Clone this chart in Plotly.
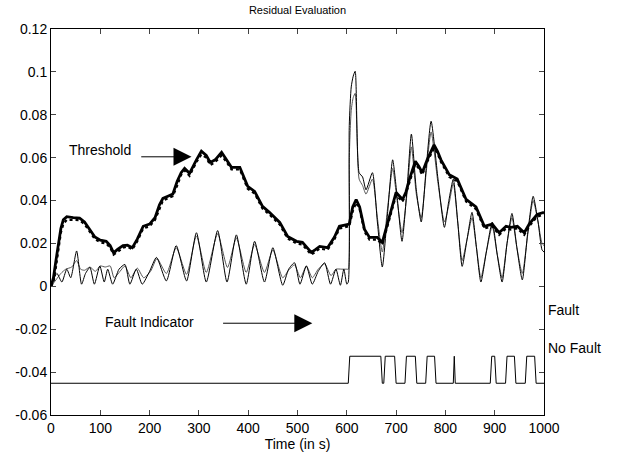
import plotly.graph_objects as go

# ---------------- data ----------------
thr_t = [0, 5, 10, 15, 20, 25, 32, 45, 58, 68, 79, 89, 100, 112, 120, 127, 135, 146, 155, 165,
         175, 187, 200, 211, 220, 227, 237, 247, 256, 264, 271, 281, 295, 305, 315, 323, 333, 346,
         356, 366, 383, 399, 413, 429, 443, 455, 464, 480, 498, 510, 520, 528, 537, 545, 561, 575,
         585, 599, 605, 612, 619, 626, 636, 646, 655, 662, 672, 680, 686, 700, 713, 720, 727, 739,
         746, 753, 763, 777, 784, 791, 808, 824, 842, 862, 879, 895, 909, 923, 933, 946, 960, 970,
         986, 1000]
thr_v = [0.0, 0.004, 0.012, 0.020, 0.027, 0.031, 0.0325, 0.032, 0.0318, 0.030, 0.0266, 0.023,
         0.0215, 0.021, 0.019, 0.0156, 0.0172, 0.019, 0.0192, 0.018, 0.022, 0.028, 0.029, 0.032,
         0.038, 0.041, 0.042, 0.043, 0.049, 0.053, 0.055, 0.0527, 0.059, 0.063, 0.061, 0.0578,
         0.059, 0.0625, 0.059, 0.0555, 0.0555, 0.0466, 0.0443, 0.0373, 0.0345, 0.032, 0.0298,
         0.0233, 0.021, 0.0205, 0.018, 0.0158, 0.0172, 0.0186, 0.018, 0.023, 0.028, 0.0285, 0.029,
         0.037, 0.0405, 0.037, 0.0265, 0.0228, 0.0228, 0.0228, 0.0205, 0.027, 0.0326, 0.0438,
         0.0405, 0.044, 0.0499, 0.0583, 0.056, 0.053, 0.059, 0.066, 0.063, 0.059, 0.052, 0.050,
         0.0405, 0.037, 0.028, 0.029, 0.025, 0.028, 0.0275, 0.028, 0.025, 0.029, 0.0335, 0.0345]
dot_v = [0.0, 0.002, 0.009, 0.017, 0.025, 0.029, 0.031, 0.031, 0.0308, 0.029, 0.0256, 0.022,
         0.0205, 0.020, 0.018, 0.0148, 0.016, 0.018, 0.0185, 0.0172, 0.021, 0.027, 0.028, 0.031,
         0.036, 0.040, 0.041, 0.042, 0.047, 0.052, 0.054, 0.0515, 0.058, 0.0615, 0.060, 0.0565,
         0.058, 0.061, 0.058, 0.0545, 0.0545, 0.0455, 0.0433, 0.0363, 0.0335, 0.031, 0.0288,
         0.0223, 0.020, 0.0195, 0.017, 0.0148, 0.0162, 0.0176, 0.017, 0.022, 0.027, 0.0278, 0.028,
         0.035, 0.039, 0.036, 0.0255, 0.0218, 0.0218, 0.0218, 0.0195, 0.026, 0.031, 0.0425,
         0.0395, 0.043, 0.0485, 0.057, 0.055, 0.052, 0.058, 0.0645, 0.062, 0.058, 0.051, 0.049,
         0.0395, 0.036, 0.027, 0.028, 0.024, 0.027, 0.0265, 0.027, 0.024, 0.028, 0.0325, 0.0335]

resA_t = [0, 12, 22, 32, 40, 52, 62, 70, 79, 88, 99, 108, 115, 125, 138, 150, 160, 173, 185, 200,
          214, 234, 254, 275, 295, 315, 338, 357, 376, 396, 413, 433, 450, 470, 482, 494, 505, 518,
          530, 542, 555, 567, 578, 587, 594, 600, 603, 605, 609, 613, 617, 625, 632, 639, 652, 662,
          672, 683, 693, 702, 712, 722, 731, 741, 751, 761, 771, 785, 798, 807, 816, 825, 834, 844,
          854, 863, 872, 883, 895, 905, 915, 925, 935, 945, 956, 967, 978, 988, 996, 1000]
resA_v = [0.0, 0.006, 0.002, 0.008, 0.004, 0.0165, 0.001, 0.006, 0.0088, 0.001, 0.0095, 0.002,
          0.008, 0.001, 0.008, 0.0102, 0.001, 0.008, 0.001, 0.007, 0.0135, 0.0025, 0.019, 0.0025,
          0.025, 0.002, 0.026, 0.002, 0.024, 0.001, 0.021, 0.002, 0.018, 0.0005, 0.008, 0.011,
          0.001, 0.0095, 0.001, 0.007, 0.011, 0.001, 0.008, 0.0005, 0.008, 0.001, 0.002, 0.075,
          0.093, 0.098, 0.1003, 0.053, 0.051, 0.045, 0.053, 0.030, 0.009, 0.035, 0.059, 0.042,
          0.021, 0.045, 0.071, 0.045, 0.030, 0.055, 0.077, 0.050, 0.0275, 0.040, 0.050, 0.030,
          0.0093, 0.022, 0.0345, 0.018, 0.002, 0.016, 0.030, 0.015, 0.002, 0.020, 0.034, 0.018,
          0.003, 0.025, 0.042, 0.030, 0.017, 0.016]

resB_t = [0, 10, 20, 30, 42, 52, 60, 68, 79, 90, 100, 110, 120, 128, 140, 150, 162, 175, 188, 202,
          215, 234, 254, 275, 295, 315, 338, 358, 376, 396, 413, 433, 450, 470, 482, 494, 506, 518,
          530, 542, 555, 568, 578, 590, 600, 603, 605, 609, 613, 617, 625, 632, 639, 652, 662, 672,
          683, 693, 702, 712, 722, 731, 741, 751, 761, 771, 785, 798, 807, 816, 825, 834, 844, 854,
          863, 872, 883, 895, 905, 915, 925, 935, 945, 956, 967, 978, 988, 996, 1000]
resB_v = [0.0, 0.003, 0.006, 0.008, 0.009, 0.012, 0.008, 0.0075, 0.009, 0.007, 0.0095, 0.009,
          0.0095, 0.004, 0.007, 0.0095, 0.004, 0.0085, 0.004, 0.007, 0.013, 0.006, 0.018, 0.0056,
          0.0235, 0.0065, 0.0245, 0.0088, 0.0225, 0.0065, 0.0195, 0.0065, 0.017, 0.004, 0.0075,
          0.010, 0.004, 0.0095, 0.004, 0.008, 0.0105, 0.005, 0.008, 0.008, 0.008, 0.008, 0.06,
          0.082, 0.088, 0.090, 0.050, 0.047, 0.043, 0.050, 0.032, 0.016, 0.037, 0.055, 0.040,
          0.025, 0.043, 0.065, 0.043, 0.032, 0.053, 0.072, 0.048, 0.030, 0.038, 0.048, 0.030,
          0.012, 0.022, 0.032, 0.018, 0.004, 0.016, 0.028, 0.015, 0.004, 0.020, 0.032, 0.018,
          0.006, 0.024, 0.040, 0.030, 0.020, 0.019]

fault_t = [0, 603, 606, 669, 672, 675, 678, 697, 700, 718, 721, 739, 742, 760, 763, 778, 781,
           816, 818, 820, 891, 894, 900, 903, 922, 925, 940, 943, 962, 965, 981, 984, 1000]
fault_state = [0, 0, 1, 1, 0, 0, 1, 1, 0, 0, 1, 1, 0, 0, 1, 1, 0, 0, 1, 0, 0, 1, 1, 0, 0, 1, 1,
               0, 0, 1, 1, 0, 0]
fault_levels = [-0.0452, -0.0326]  # No Fault, Fault

x_ticks = [0, 100, 200, 300, 400, 500, 600, 700, 800, 900, 1000]
y_ticks = [-0.06, -0.04, -0.02, 0, 0.02, 0.04, 0.06, 0.08, 0.1, 0.12]
y_ticktext = ["-0.06", "-0.04", "-0.02", "0", "0.02", "0.04", "0.06", "0.08", "0.1", "0.12"]

# ---------------- figure ----------------
fig = go.Figure()
fig.add_trace(go.Scatter(x=resB_t, y=resB_v, mode="lines",
                         line=dict(color="#555555", width=1, shape="spline", smoothing=0.6)))
fig.add_trace(go.Scatter(x=resA_t, y=resA_v, mode="lines",
                         line=dict(color="black", width=1, shape="spline", smoothing=0.6)))
fig.add_trace(go.Scatter(x=thr_t, y=dot_v, mode="lines",
                         line=dict(color="black", width=2.2, dash="dot")))
fig.add_trace(go.Scatter(x=thr_t, y=thr_v, mode="lines",
                         line=dict(color="black", width=2.8)))
fig.add_trace(go.Scatter(x=fault_t, y=[fault_levels[s] for s in fault_state], mode="lines",
                         line=dict(color="black", width=1)))

font = dict(family="Liberation Sans, Arial, sans-serif", size=14, color="black")

fig.update_layout(
    width=618, height=459,
    margin=dict(l=51, r=74, t=29, b=44),
    paper_bgcolor="white", plot_bgcolor="white",
    showlegend=False,
    font=font,
    title=dict(text="Residual Evaluation", x=(51 + 544) / 2 / 618, xanchor="center",
               y=1 - 10 / 459, yanchor="middle", font=dict(size=11)),
    xaxis=dict(range=[0, 1000], tickvals=x_ticks, ticks="inside", ticklen=5,
               showline=True, linecolor="black", linewidth=1, mirror="ticks",
               showgrid=False, zeroline=False, tickfont=dict(size=14),
               title=dict(text="Time (in s)", standoff=2, font=dict(size=14))),
    yaxis=dict(range=[-0.06, 0.12], tickvals=y_ticks, ticktext=y_ticktext,
               ticks="inside", ticklen=5, tickfont=dict(size=14),
               showline=True, linecolor="black", linewidth=1, mirror="ticks",
               showgrid=False, zeroline=False),
)

fig.add_annotation(x=285, y=0.0604, ax=180, ay=0.0604, xref="x", yref="y",
                   axref="x", ayref="y", showarrow=True, arrowhead=2, arrowsize=3.6,
                   arrowwidth=1, arrowcolor="black", text="")
fig.add_annotation(x=100, y=0.0638, xref="x", yref="y", text="Threshold",
                   showarrow=False, font=font)
fig.add_annotation(x=530, y=-0.0172, ax=346, ay=-0.0172, xref="x", yref="y",
                   axref="x", ayref="y", showarrow=True, arrowhead=2, arrowsize=3.6,
                   arrowwidth=1, arrowcolor="black", text="")
fig.add_annotation(x=199, y=-0.0168, xref="x", yref="y", text="Fault Indicator",
                   showarrow=False, font=font)
fig.add_annotation(x=1, y=-0.0112, xref="paper", yref="y", text="Fault",
                   showarrow=False, xanchor="left", xshift=2, font=font)
fig.add_annotation(x=1, y=-0.0289, xref="paper", yref="y", text="No Fault",
                   showarrow=False, xanchor="left", xshift=2, font=font)

fig.write_html("out.html", config={"displayModeBar": False},
               post_script="document.body.style.margin='0px';")
